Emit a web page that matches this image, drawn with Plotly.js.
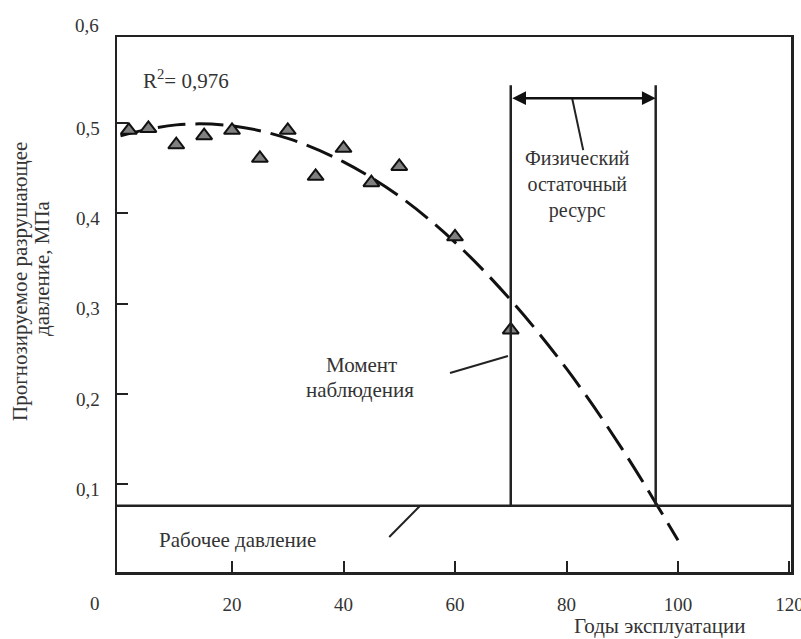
<!DOCTYPE html>
<html>
<head>
<meta charset="utf-8">
<script src="https://cdn.plot.ly/plotly-3.0.1.min.js"></script>
<style>html,body{margin:0;padding:0;background:#fff;}#chart{width:801px;height:639px;}</style>
</head>
<body>
<div id="chart"></div>
<script>
// Observed data (years of operation, predicted burst pressure, MPa)
const obsYears = [1.5, 5, 10, 15, 20, 25, 30, 35, 40, 45, 50, 60, 70];
const obsPressure = [0.492, 0.494, 0.476, 0.486, 0.492, 0.461, 0.492, 0.441, 0.472, 0.434, 0.452, 0.374, 0.271];

// Trend curve
const trendYears = [0, 10, 20, 30, 40, 50, 60, 70, 80, 90, 100];
const trendPressure = [0.486, 0.498, 0.497, 0.483, 0.457, 0.419, 0.368, 0.304, 0.228, 0.139, 0.038];

// Key levels / moments
const workingPressure = 0.0763;
const observationYear = 70;
const limitYear = 96;
const markerTop = 0.542;
const arrowLevel = 0.5275;

const xTickVals = [20, 40, 60, 80, 100, 120];
const xTickText = ['20', '40', '60', '80', '100', '120'];
const yTickVals = [0.1, 0.2, 0.3, 0.4, 0.5];
const yTickText = ['0,1', '0,2', '0,3', '0,4', '0,5'];

const serif = '"Liberation Serif", "DejaVu Serif", serif';
const ink = '#222';
const txt = '#333';

const traces = [
  {
    x: trendYears, y: trendPressure, type: 'scatter', mode: 'lines',
    line: {color: '#111', width: 3, dash: '28px,10px', shape: 'spline'},
    hoverinfo: 'skip', showlegend: false
  },
  {
    x: obsYears, y: obsPressure, type: 'scatter', mode: 'markers',
    marker: {symbol: 'triangle-up', size: 14, color: '#808080', line: {color: '#111', width: 2}},
    showlegend: false
  }
];

const shapes = [
  {type: 'line', xref: 'paper', yref: 'y', x0: 0, x1: 1, y0: workingPressure, y1: workingPressure, line: {color: ink, width: 2.5}},
  {type: 'line', xref: 'x', yref: 'y', x0: observationYear, x1: observationYear, y0: workingPressure, y1: markerTop, line: {color: ink, width: 2.5}},
  {type: 'line', xref: 'x', yref: 'y', x0: limitYear, x1: limitYear, y0: workingPressure, y1: markerTop, line: {color: ink, width: 2.5}},
  {type: 'line', xref: 'x', yref: 'y', x0: 81.0, y0: 0.5278, x1: 83.0, y1: 0.470, line: {color: ink, width: 2}},
  {type: 'line', xref: 'x', yref: 'y', x0: 59.1, y0: 0.2233, x1: 69.5, y1: 0.2421, line: {color: ink, width: 2}},
  {type: 'line', xref: 'x', yref: 'y', x0: 48.2, y0: 0.0416, x1: 53.7, y1: 0.076, line: {color: ink, width: 2}}
];

const fT = {family: serif, size: 21, color: txt};
const C = {xanchor: 'center', yanchor: 'middle', showarrow: false, font: fT, borderpad: 0};
const ann = (o) => Object.assign({}, C, o);
const annotations = [
  {x: limitYear, y: arrowLevel, ax: observationYear, ay: arrowLevel, xref: 'x', yref: 'y', axref: 'x', ayref: 'y',
   text: '', showarrow: true, arrowside: 'end+start', arrowhead: 2, arrowsize: 1.1, arrowwidth: 2.5, arrowcolor: '#111', standoff: 0, startstandoff: 0},
  ann({x: 82.06, y: 0.4315, xref: 'x', yref: 'y', text: 'Физический<br>остаточный<br>ресурс', align: 'center', font: {family: serif, size: 20, color: txt}}),
  ann({x: 43.2, y: 0.2319, xref: 'x', yref: 'y', text: 'Момент'}),
  ann({x: 43.0, y: 0.2042, xref: 'x', yref: 'y', text: 'наблюдения'}),
  ann({x: 20.9, y: 0.0383, xref: 'x', yref: 'y', text: 'Рабочее давление'}),
  ann({x: 3.9, y: 0.5477, xref: 'x', yref: 'y', xanchor: 'left', text: 'R<sup>2</sup>= 0,976'}),
  ann({x: -0.0252, y: 1.0224, xref: 'paper', yref: 'paper', xanchor: 'right', text: '0,6', font: {family: serif, size: 19, color: txt}}),
  ann({x: -0.0326, y: -0.058, xref: 'paper', yref: 'paper', text: '0', font: {family: serif, size: 19, color: txt}}),
  ann({x: 0.8056, y: -0.1009, xref: 'paper', yref: 'paper', text: 'Годы эксплуатации'}),
  ann({x: -0.1439, y: 0.5421, xref: 'paper', yref: 'paper', text: 'Прогнозируемое разрушающее', textangle: -90}),
  ann({x: -0.1113, y: 0.5682, xref: 'paper', yref: 'paper', text: 'давление, МПа', textangle: -90})
];

const layout = {
  width: 801, height: 639,
  margin: {l: 117, r: 10, t: 37, b: 67},
  paper_bgcolor: '#fff', plot_bgcolor: '#fff',
  showlegend: false,
  xaxis: {
    range: [-0.63, 120.27], tickvals: xTickVals, ticktext: xTickText,
    ticks: 'inside', ticklen: 11, tickwidth: 2, tickcolor: ink,
    showline: true, mirror: true, linecolor: ink, linewidth: 2.5,
    showgrid: false, zeroline: false, ticklabelstandoff: 14, ticklabeloverflow: 'allow',
    tickfont: {family: serif, size: 19, color: txt}
  },
  yaxis: {
    range: [0.0029, 0.5953], tickvals: yTickVals, ticktext: yTickText,
    ticks: 'inside', ticklen: 11, tickwidth: 2, tickcolor: ink,
    showline: true, mirror: true, linecolor: ink, linewidth: 2.5,
    showgrid: false, zeroline: false, ticklabelstandoff: 11, ticklabelshift: 5,
    tickfont: {family: serif, size: 19, color: txt}
  },
  shapes: shapes,
  annotations: annotations
};

Plotly.newPlot('chart', traces, layout, {displayModeBar: false, staticPlot: true});
</script>
</body>
</html>
